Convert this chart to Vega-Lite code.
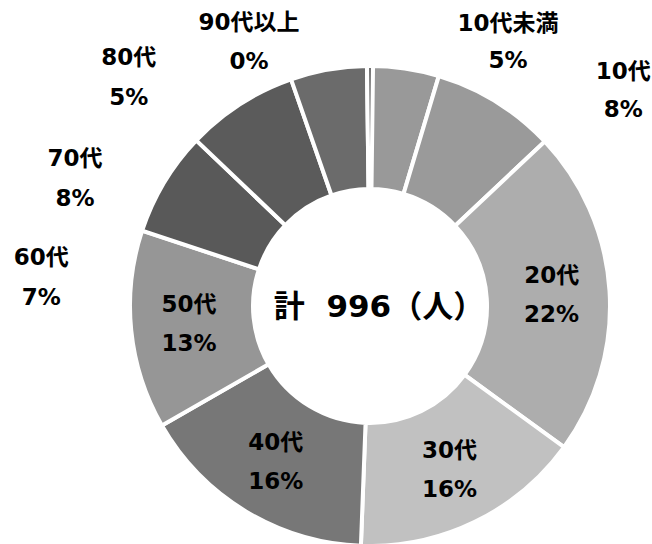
{
  "$schema": "https://vega.github.io/schema/vega-lite/v6.json",
  "width": 564,
  "height": 476,
  "autosize": {"type": "none"},
  "padding": {"left": 88, "top": 68, "right": 0, "bottom": 0},
  "background": "white",
  "config": {"view": {"stroke": null}},
  "data": {
    "values": [
      {"idx": 1, "age": "10代未満", "count": 46},
      {"idx": 2, "age": "10代", "count": 83},
      {"idx": 3, "age": "20代", "count": 219},
      {"idx": 4, "age": "30代", "count": 155},
      {"idx": 5, "age": "40代", "count": 160},
      {"idx": 6, "age": "50代", "count": 133},
      {"idx": 7, "age": "60代", "count": 70},
      {"idx": 8, "age": "70代", "count": 75},
      {"idx": 9, "age": "80代", "count": 51},
      {"idx": 10, "age": "90代以上", "count": 4}
    ]
  },
  "transform": [
    {"stack": "count", "groupby": [], "sort": [{"field": "idx", "order": "ascending"}], "as": ["s0", "s1"]},
    {"joinaggregate": [{"op": "sum", "field": "count", "as": "total"}]},
    {"calculate": "(datum.s0 + datum.s1) / 2", "as": "mid"},
    {"calculate": "datum.age + '\\n' + round(datum.count / datum.total * 100) + '%'", "as": "label"}
  ],
  "layer": [
    {
      "mark": {"type": "arc", "outerRadius": 240, "innerRadius": 117, "stroke": "#ffffff", "strokeWidth": 4},
      "encoding": {
        "theta": {"field": "s0", "type": "quantitative", "scale": {"zero": true, "nice": false}},
        "theta2": {"field": "s1"},
        "color": {
          "field": "age",
          "type": "nominal",
          "legend": null,
          "scale": {
            "domain": ["10代未満", "10代", "20代", "30代", "40代", "50代", "60代", "70代", "80代", "90代以上"],
            "range": ["#999999", "#9a9a9a", "#adadad", "#c1c1c1", "#777777", "#969696", "#595959", "#5b5b5b", "#6b6b6b", "#727272"]
          }
        }
      }
    },
    {
      "transform": [{"filter": {"field": "age", "oneOf": ["20代", "30代", "40代", "50代"]}}],
      "mark": {"type": "text", "radius": 182, "dy": -19, "fontSize": 23, "fontWeight": "bold", "font": "DejaVu Sans, Noto Sans CJK JP", "color": "#000000", "lineBreak": "\n", "lineHeight": 39, "align": "center", "baseline": "middle"},
      "encoding": {"theta": {"field": "mid", "type": "quantitative"}, "text": {"field": "label"}}
    },
    {
      "transform": [{"filter": {"field": "age", "equal": "10代未満"}}],
      "mark": {"type": "text", "radius": 290, "dx": 96, "dy": 5, "fontSize": 23, "fontWeight": "bold", "font": "DejaVu Sans, Noto Sans CJK JP", "color": "#000000", "lineBreak": "\n", "lineHeight": 37, "align": "center", "baseline": "middle"},
      "encoding": {"theta": {"field": "mid", "type": "quantitative"}, "text": {"field": "label"}}
    },
    {
      "transform": [{"filter": {"field": "age", "equal": "10代"}}],
      "mark": {"type": "text", "radius": 290, "dx": 101, "dy": 13, "fontSize": 23, "fontWeight": "bold", "font": "DejaVu Sans, Noto Sans CJK JP", "color": "#000000", "lineBreak": "\n", "lineHeight": 38, "align": "center", "baseline": "middle"},
      "encoding": {"theta": {"field": "mid", "type": "quantitative"}, "text": {"field": "label"}}
    },
    {
      "transform": [{"filter": {"field": "age", "equal": "60代"}}],
      "mark": {"type": "text", "radius": 290, "dx": -80, "dy": 101, "fontSize": 23, "fontWeight": "bold", "font": "DejaVu Sans, Noto Sans CJK JP", "color": "#000000", "lineBreak": "\n", "lineHeight": 40, "align": "center", "baseline": "middle"},
      "encoding": {"theta": {"field": "mid", "type": "quantitative"}, "text": {"field": "label"}}
    },
    {
      "transform": [{"filter": {"field": "age", "equal": "70代"}}],
      "mark": {"type": "text", "radius": 290, "dx": -138, "dy": 97, "fontSize": 23, "fontWeight": "bold", "font": "DejaVu Sans, Noto Sans CJK JP", "color": "#000000", "lineBreak": "\n", "lineHeight": 40, "align": "center", "baseline": "middle"},
      "encoding": {"theta": {"field": "mid", "type": "quantitative"}, "text": {"field": "label"}}
    },
    {
      "transform": [{"filter": {"field": "age", "equal": "80代"}}],
      "mark": {"type": "text", "radius": 290, "dx": -191, "dy": 38, "fontSize": 23, "fontWeight": "bold", "font": "DejaVu Sans, Noto Sans CJK JP", "color": "#000000", "lineBreak": "\n", "lineHeight": 40, "align": "center", "baseline": "middle"},
      "encoding": {"theta": {"field": "mid", "type": "quantitative"}, "text": {"field": "label"}}
    },
    {
      "transform": [{"filter": {"field": "age", "equal": "90代以上"}}],
      "mark": {"type": "text", "radius": 290, "dx": -121, "dy": 7, "fontSize": 23, "fontWeight": "bold", "font": "DejaVu Sans, Noto Sans CJK JP", "color": "#000000", "lineBreak": "\n", "lineHeight": 39, "align": "center", "baseline": "middle"},
      "encoding": {"theta": {"field": "mid", "type": "quantitative"}, "text": {"field": "label"}}
    },
    {
      "transform": [
        {"aggregate": [{"op": "sum", "field": "count", "as": "sumcount"}]},
        {"calculate": "'計\u00a0\u00a0' + datum.sumcount + '（人）'", "as": "center"}
      ],
      "mark": {"type": "text", "dx": 9, "dy": 2, "fontSize": 31, "fontWeight": "bold", "font": "DejaVu Sans, Noto Sans CJK JP", "color": "#000000", "align": "center", "baseline": "middle"},
      "encoding": {"text": {"field": "center"}}
    }
  ]
}
